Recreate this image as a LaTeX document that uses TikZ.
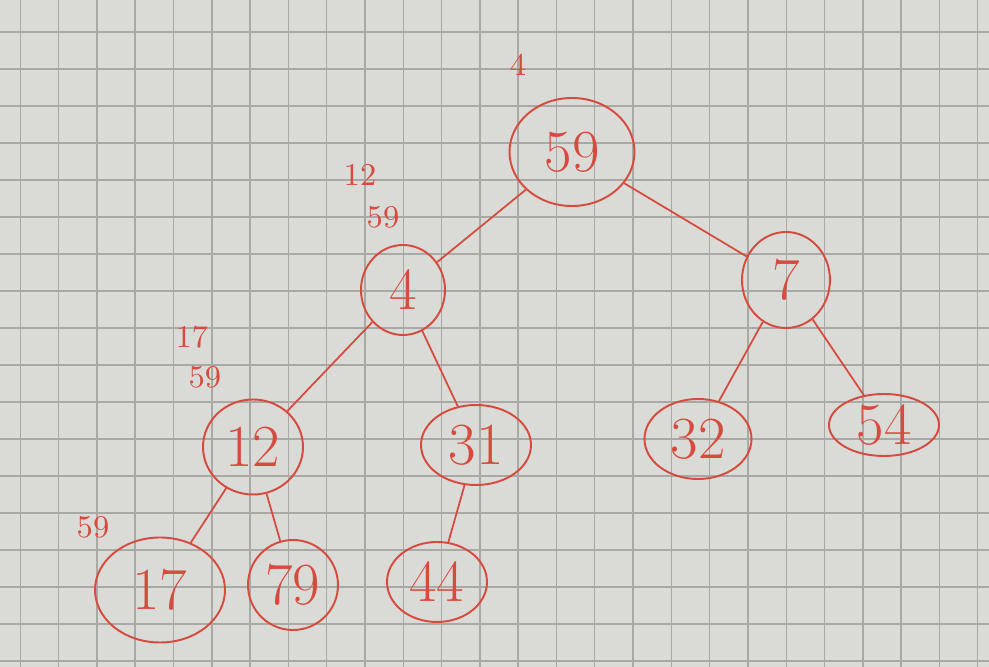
\documentclass[tikz,border=0pt]{standalone}
\usetikzlibrary{shapes.geometric}
\definecolor{inkred}{RGB}{215,75,62}
\definecolor{paper}{RGB}{218,218,214}
\definecolor{gridline}{RGB}{168,168,165}
\tikzset{
  key/.style={ellipse, draw=inkred, line width=0.55pt, text=inkred, inner sep=0pt, font=\fontsize{17}{19}\selectfont},
  note/.style={text=inkred, font=\fontsize{9}{10}\selectfont},
  link/.style={draw=inkred, line width=0.5pt}
}
\begin{document}
\begin{tikzpicture}

% Paper and grid
\useasboundingbox (0,0) rectangle (9.89,6.67);
\fill[paper] (0,0) rectangle (9.89,6.67);
\foreach \i in {0,...,25} \draw[gridline, line width=0.4pt] (0.203+0.383*\i,0) -- (0.203+0.383*\i,6.67);
\foreach \k in {-1,...,16} \draw[gridline, line width=0.4pt] (0,5.98-0.37*\k) -- (9.89,5.98-0.37*\k);

% Heap nodes
\node[key, minimum width=1.25cm, minimum height=1.08cm] (n59) at (5.72,5.15) {59};
\node[key, minimum width=0.84cm, minimum height=0.9cm] (n4) at (4.03,3.77) {4};
\node[key, minimum width=0.88cm, minimum height=0.96cm] (n7) at (7.86,3.87) {7};
\node[key, minimum width=1.0cm, minimum height=0.95cm] (n12) at (2.53,2.2) {12};
\node[key, minimum width=1.1cm, minimum height=0.8cm] (n31) at (4.76,2.22) {31};
\node[key, minimum width=1.07cm, minimum height=0.8cm] (n32) at (6.98,2.28) {32};
\node[key, minimum width=1.1cm, minimum height=0.62cm] (n54) at (8.84,2.42) {54};
\node[key, minimum width=1.3cm, minimum height=1.05cm] (n17) at (1.6,0.77) {17};
\node[key, minimum width=0.9cm, minimum height=0.9cm] (n79) at (2.93,0.82) {79};
\node[key, minimum width=1.0cm, minimum height=0.8cm] (n44) at (4.37,0.85) {44};

% Edges
\draw[link] (n59) -- (n4);
\draw[link] (n59) -- (n7);
\draw[link] (n4) -- (n12);
\draw[link] (n4) -- (n31);
\draw[link] (n7) -- (n32);
\draw[link] (n7) -- (n54);
\draw[link] (n12) -- (n17);
\draw[link] (n12) -- (n79);
\draw[link] (n31) -- (n44);

% Side notes
\node[note] (s4) at (5.18,6.02) {4};
\node[note] (s12a) at (3.6,4.92) {12};
\node[note] (s59a) at (3.83,4.5) {59};
\node[note] (s17) at (1.92,3.3) {17};
\node[note] (s59b) at (2.05,2.9) {59};
\node[note] (s59c) at (0.93,1.4) {59};

\end{tikzpicture}
\end{document}
